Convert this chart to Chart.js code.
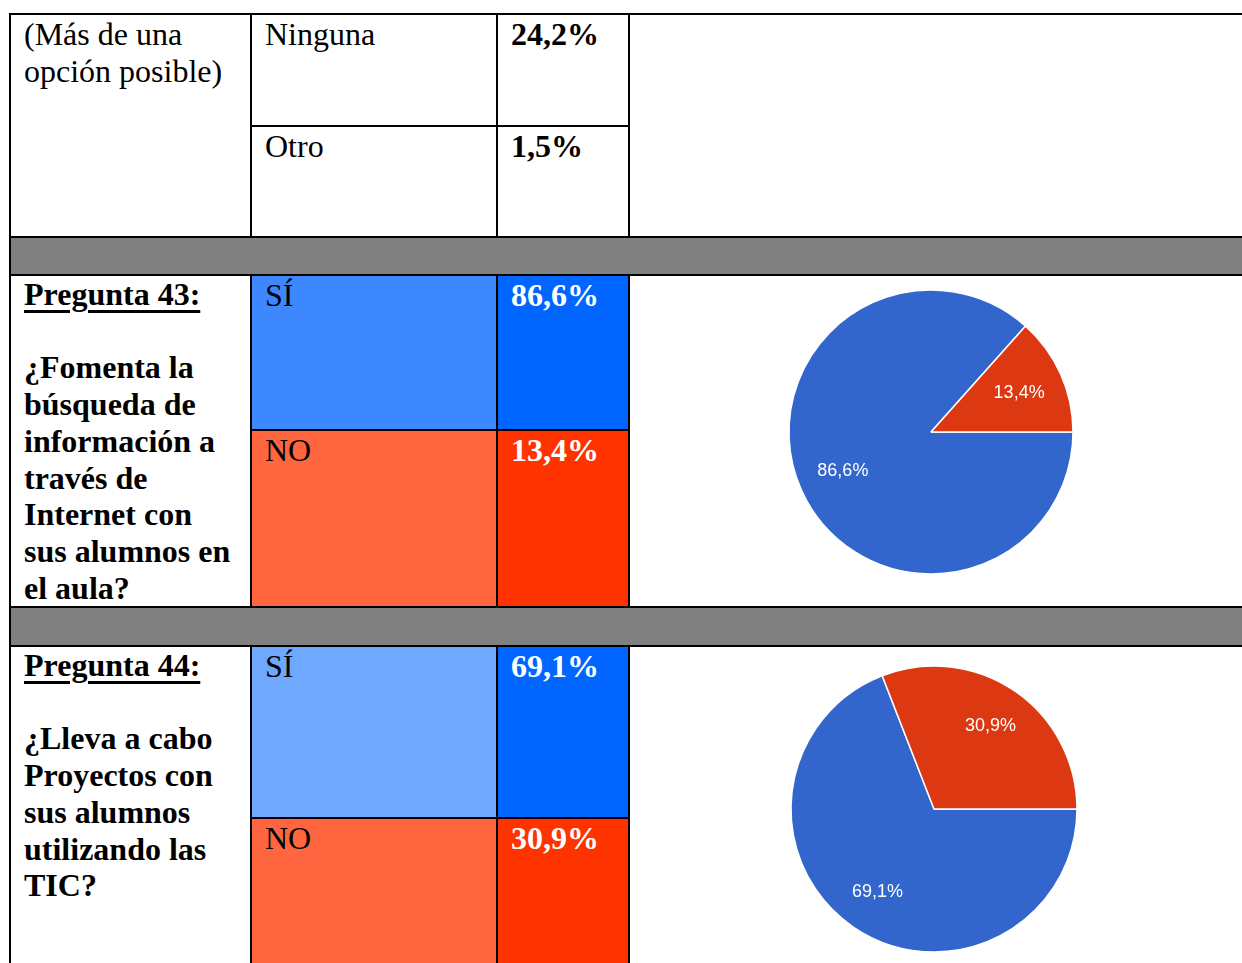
<!DOCTYPE html>
<html>
<head>
<meta charset="utf-8">
<title>Preguntas 43 y 44</title>
<script src="https://cdn.jsdelivr.net/npm/chart.js@4.4.0/dist/chart.umd.min.js"></script>
<style>
    body {
        margin: 0;
        width: 1242px;
        height: 963px;
        overflow: hidden;
        background: #fff;
        position: relative;
        font-family: "Liberation Serif", "Times New Roman", serif;
    }
    .box { position: absolute; }
    .txt {
        position: absolute;
        font-size: 32px;
        line-height: 36.7px;
        white-space: nowrap;
        color: #000;
    }
    .b { font-weight: bold; }
    .w { color: #fff; }
    .txt u { text-decoration-thickness: 3px; text-underline-offset: 5px; }
    canvas { position: absolute; }
</style>
</head>
<body>
<div id="tbl"></div>
<canvas id="pie43" width="300" height="300" style="left:781px;top:282px"></canvas>
<canvas id="pie44" width="300" height="300" style="left:784px;top:659px"></canvas>
<script>
// data
var otherLabels = ["Ninguna", "Otro"];
var otherValues = [24.2, 1.5];
var answerLabels = ["SÍ", "NO"];
var q43Values = [86.6, 13.4];
var q44Values = [69.1, 30.9];
var pieColors = ["#3366cc", "#dc3912"];

function fmt(v) {
    return v.toFixed(1).replace(".", ",") + "%";
}

var tbl = document.getElementById("tbl");

function addBox(x, y, w, h, color) {
    var d = document.createElement("div");
    d.className = "box";
    d.style.left = x + "px";
    d.style.top = y + "px";
    d.style.width = w + "px";
    d.style.height = h + "px";
    d.style.background = color;
    tbl.appendChild(d);
}

function addText(x, y, html, cls) {
    var d = document.createElement("div");
    d.className = "txt " + (cls || "");
    d.style.left = x + "px";
    d.style.top = y + 2 + "px";
    d.innerHTML = html;
    tbl.appendChild(d);
}

// coloured cells
addBox(252, 276, 244, 153, "#3d88ff");
addBox(498, 276, 130, 153, "#0066ff");
addBox(252, 431, 244, 175, "#ff6640");
addBox(498, 431, 130, 175, "#ff3300");
addBox(252, 647, 244, 170, "#6fa8ff");
addBox(498, 647, 130, 170, "#0066ff");
addBox(252, 819, 244, 144, "#ff6640");
addBox(498, 819, 130, 144, "#ff3300");

// grey separator rows
addBox(11, 238, 1231, 36, "#808080");
addBox(11, 608, 1231, 37, "#808080");

// borders
addBox(9, 13, 1233, 2, "#000");
addBox(9, 13, 2, 950, "#000");
[236, 274, 606, 645].forEach(function (y) {
    addBox(9, y, 1233, 2, "#000");
});
[125, 429, 817].forEach(function (y) {
    addBox(250, y, 380, 2, "#000");
});
[250, 496, 628].forEach(function (x) {
    addBox(x, 13, 2, 225, "#000");
    addBox(x, 274, 2, 334, "#000");
    addBox(x, 645, 2, 318, "#000");
});

// texts
addText(24, 14, "(Más de una<br>opción posible)");
addText(265, 14, otherLabels[0]);
addText(511, 14, fmt(otherValues[0]), "b");
addText(265, 126, otherLabels[1]);
addText(511, 126, fmt(otherValues[1]), "b");

addText(24, 274, "<u>Pregunta 43:</u><br><br>¿Fomenta la<br>búsqueda de<br>información a<br>través de<br>Internet con<br>sus alumnos en<br>el aula?", "b");
addText(265, 275, answerLabels[0]);
addText(511, 275, fmt(q43Values[0]), "b w");
addText(265, 430, answerLabels[1]);
addText(511, 430, fmt(q43Values[1]), "b w");

addText(24, 645, "<u>Pregunta 44:</u><br><br>¿Lleva a cabo<br>Proyectos con<br>sus alumnos<br>utilizando las<br>TIC?", "b");
addText(265, 646, answerLabels[0]);
addText(511, 646, fmt(q44Values[0]), "b w");
addText(265, 818, answerLabels[1]);
addText(511, 818, fmt(q44Values[1]), "b w");

// labels inside the slices
var sliceLabels = {
    id: "sliceLabels",
    afterDatasetsDraw: function (chart, args, opts) {
        var ctx = chart.ctx;
        var meta = chart.getDatasetMeta(0);
        ctx.save();
        ctx.fillStyle = "#fff";
        ctx.font = "18px 'Liberation Sans', Arial, sans-serif";
        ctx.textAlign = "center";
        ctx.textBaseline = "middle";
        meta.data.forEach(function (arc, i) {
            var p = arc.getProps(["x", "y", "startAngle", "endAngle", "outerRadius"], true);
            var mid = (p.startAngle + p.endAngle) / 2;
            var r = p.outerRadius * opts.dist;
            ctx.fillText(fmt(chart.data.datasets[0].data[i]), p.x + Math.cos(mid) * r, p.y + Math.sin(mid) * r);
        });
        ctx.restore();
    },
};

function drawPie(id, values, radius, dist) {
    return new Chart(document.getElementById(id), {
        type: "pie",
        data: {
            labels: answerLabels,
            datasets: [
                {
                    data: values,
                    backgroundColor: pieColors,
                    borderColor: "#fff",
                    borderWidth: 1.5,
                    radius: radius,
                },
            ],
        },
        options: {
            responsive: false,
            animation: false,
            rotation: 90,
            plugins: {
                legend: { display: false },
                tooltip: { enabled: false },
                sliceLabels: { dist: dist },
            },
        },
        plugins: [sliceLabels],
    });
}

var pie43 = drawPie("pie43", q43Values, 142, 0.68);
var pie44 = drawPie("pie44", q44Values, 143, 0.7);
</script>
</body>
</html>
